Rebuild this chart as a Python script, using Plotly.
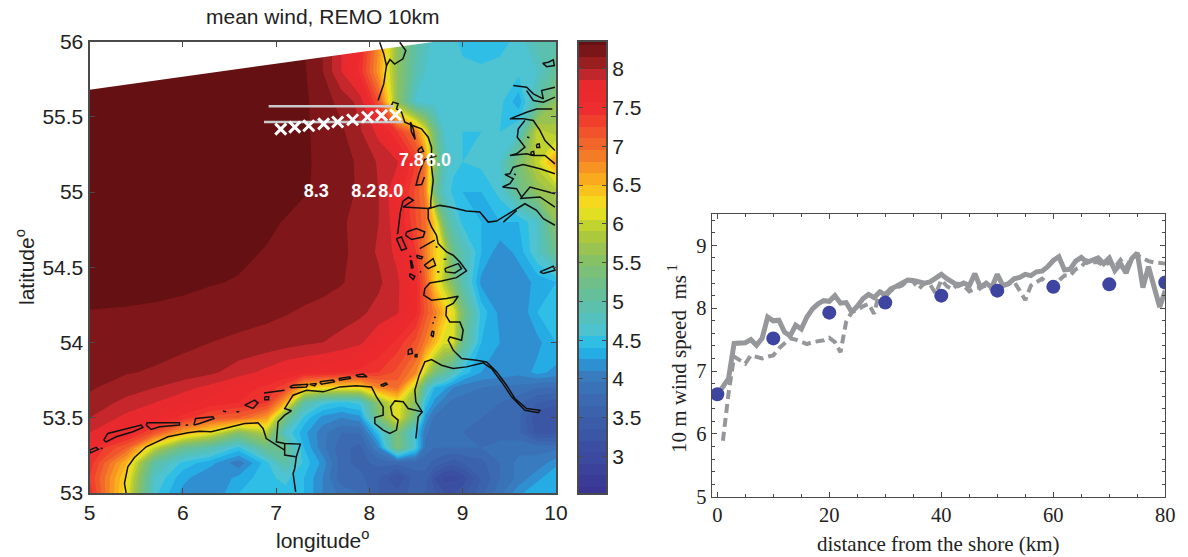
import plotly.graph_objects as go

W, H = 1188, 557

# ---------- map data: mean wind on lon/lat grid ----------
grid_lon = [5, 5.4, 5.7, 6, 6.3, 6.6, 6.9, 7.1, 7.3, 7.5, 7.7, 7.9, 8.1, 8.3, 8.5, 8.6, 8.7, 8.8, 8.9, 9.0, 9.2, 9.4, 9.6, 9.8, 10]
grid_lat = [53.0, 53.1, 53.2, 53.3, 53.4, 53.5, 53.6, 53.7, 53.8, 54.0, 54.2, 54.4, 54.6, 54.8, 55.0, 55.2, 55.4, 55.6, 55.8, 56.0]
wind = [
 [7.5,6.2,4.6,4.2,4.1,4.4,4.5,4.5,4.4,4.1,3.9,3.8,3.5,3.4,3.6,3.5,3.4,3.2,3.2,3.3,3.6,3.9,4.2,4.4,4.4],
 [7.4,6.3,4.7,4.3,4.1,4.3,4.5,4.6,4.4,4.1,3.7,3.7,3.5,3.2,3.6,3.6,3.2,3.0,3.0,3.1,3.5,3.8,4.0,4.2,4.4],
 [7.5,6.5,5.0,4.5,4.3,4.0,4.5,5.0,4.5,4.2,3.7,3.6,3.7,3.7,3.7,3.7,3.6,3.5,3.4,3.5,3.6,3.8,4.0,4.0,4.2],
 [7.6,7.1,6.0,5.2,4.9,4.5,5.2,5.2,4.4,4.0,3.7,3.6,4.1,5.4,4.6,3.9,3.8,3.8,3.8,3.8,3.8,3.9,3.9,3.9,3.9],
 [7.85,7.7,7.2,6.6,6.2,5.5,5.9,4.7,4.3,4.0,3.8,3.8,4.5,5.4,4.5,4.0,3.8,3.8,3.8,3.8,3.7,3.7,3.7,3.3,3.3],
 [8.0,7.8,7.7,7.5,7.2,7.1,6.7,5.3,4.5,4.2,4.1,4.2,5.4,6.2,5.2,4.2,3.9,3.8,3.8,3.8,3.8,3.7,3.7,3.2,3.2],
 [8.1,7.95,7.85,7.75,7.65,7.55,7.4,6.6,5.0,4.6,4.5,4.6,5.6,6.2,5.5,4.5,4.2,4.0,3.9,3.9,3.8,3.8,3.7,3.5,3.4],
 [8.17,8.07,8.0,7.9,7.8,7.65,7.5,7.3,6.5,6.3,6.3,6.3,6.8,7.0,5.9,4.9,4.4,4.3,4.1,4.0,3.95,3.9,3.9,3.8,3.8],
 [8.2,8.16,8.13,8.1,8.03,7.92,7.8,7.7,7.65,7.6,7.55,7.5,7.4,7.2,6.8,6.0,5.4,5.1,4.8,4.5,4.25,4.2,4.15,4.3,4.2],
 [8.25,8.24,8.22,8.18,8.15,8.12,8.1,8.07,8.03,8.0,7.95,7.88,7.7,7.5,7.2,6.9,6.5,6.1,6.1,5.2,4.4,4.25,4.2,4.2,4.4],
 [8.29,8.28,8.27,8.25,8.23,8.21,8.18,8.16,8.13,8.1,8.07,8.03,7.95,7.87,7.6,7.2,6.9,6.5,6.2,5.4,4.5,4.2,4.1,4.4,4.5],
 [8.4,8.38,8.36,8.34,8.31,8.29,8.26,8.25,8.22,8.2,8.16,8.1,8.03,7.88,7.6,7.1,6.4,5.9,5.4,4.9,4.2,4.2,4.15,4.3,4.4],
 [8.45,8.43,8.41,8.39,8.37,8.33,8.29,8.28,8.26,8.24,8.19,8.08,7.98,7.8,7.4,6.9,6.4,6.1,5.2,4.9,4.4,4.15,4.3,4.7,5.2],
 [8.5,8.48,8.46,8.44,8.42,8.38,8.33,8.29,8.25,8.21,8.17,8.1,8.0,7.75,7.25,7.0,6.4,5.3,4.8,4.5,4.4,4.4,4.4,4.7,5.6],
 [8.5,8.5,8.48,8.47,8.45,8.42,8.39,8.36,8.31,8.28,8.2,8.13,8.0,7.7,7.2,6.9,5.3,4.7,4.5,4.4,4.4,4.6,5.2,5.6,5.8],
 [8.5,8.5,8.5,8.48,8.46,8.44,8.42,8.4,8.32,8.27,8.21,8.12,7.98,7.87,7.4,6.9,5.6,4.8,4.6,4.55,4.6,4.7,5.4,6.0,6.7],
 [8.5,8.5,8.5,8.48,8.46,8.44,8.42,8.4,8.32,8.26,8.18,8.02,7.8,7.4,6.9,6.2,5.3,4.7,4.6,4.55,4.55,4.55,4.7,6.0,5.8],
 [8.5,8.5,8.5,8.48,8.46,8.44,8.42,8.4,8.33,8.22,8.1,7.95,7.2,5.6,4.65,4.6,4.6,4.6,4.6,4.6,4.6,4.6,4.3,5.0,5.6],
 [8.5,8.5,8.5,8.48,8.46,8.44,8.42,8.4,8.32,8.15,7.85,7.5,6.7,5.6,4.9,4.7,4.6,4.6,4.6,4.6,4.6,4.6,4.6,4.7,5.1],
 [8.5,8.5,8.5,8.48,8.46,8.44,8.42,8.38,8.3,8.15,7.85,7.6,6.8,5.6,5.0,4.8,4.6,4.6,4.6,4.5,4.4,4.5,4.6,4.9,5.0],
]
level_start, level_end, level_size = 2.6, 8.3, 0.15
bar_levels = [2.525 + 0.15 * k for k in range(40)]
bar_ticks = [3, 3.5, 4, 4.5, 5, 5.5, 6, 6.5, 7, 7.5, 8]
zmin, zmax = 2.53, 8.35
palette_z = [2.53, 3, 3.5, 4, 4.2, 4.4, 4.6, 5, 5.5, 5.8, 6, 6.2, 6.5, 7, 7.5, 7.775, 7.925, 8.075, 8.225, 8.35]
palette_c = ["#3a3592", "#3b4a9f", "#3b5fa9", "#3a78bc", "#2d93d4", "#1fbcee", "#4dc3d3", "#5fbfa3", "#84c069",
             "#a9c63f", "#c5d52d", "#f1e51f", "#fbb61c", "#f3692b", "#ee2a2e", "#e82a2e", "#c0272d", "#981e20", "#7a1518", "#651013"]

# model domain edge: no data above it
nodata_lon = [5, 8.72, 8.72, 5, 5]
nodata_lat = [55.68, 56, 56, 56, 55.68]

# transect
transect_lon = [7.05, 7.2, 7.35, 7.51, 7.66, 7.82, 7.98, 8.13, 8.28]
transect_lat = [55.418, 55.431, 55.44, 55.453, 55.465, 55.48, 55.498, 55.509, 55.513]
track_lon = [6.92, 8.26, None, 6.87, 8.36]
track_lat = [55.57, 55.57, None, 55.465, 55.465]

label_text = ["8.3", "8.2", "8.0", "7.8", "6.0"]
label_lon = [7.43, 7.94, 8.23, 8.45, 8.74]
label_lat = [55.0, 55.0, 55.0, 55.2, 55.2]

# coastlines as (lon, lat) runs
coast_runs = [
 [(8.11,55.995),(8.154,55.918),(8.183,55.84),(8.154,55.718),(8.093,55.608)],
 [(8.183,55.84),(8.22,55.88),(8.27,55.85),(8.36,55.885),(8.39,55.94),(8.325,55.995)],
 [(8.236,55.575),(8.254,55.597),(8.308,55.586),(8.29,55.552),(8.344,55.53),(8.38,55.464),(8.462,55.442),(8.558,55.42),(8.63,55.364),(8.666,55.298),(8.666,55.165),(8.684,55.077),(8.658,54.944),(8.658,54.90),(8.63,54.889),(8.63,54.823),(8.666,54.768),(8.719,54.712),(8.737,54.657),(8.827,54.602),(8.898,54.58),(8.97,54.535),(9.041,54.476),(8.934,54.431),(8.773,54.409),(8.648,54.396),(8.594,54.358),(8.583,54.314),(8.666,54.281),(8.827,54.292),(8.952,54.307),(8.898,54.259),(8.827,54.237),(8.82,54.181),(8.862,54.137),(8.97,54.137),(9.005,54.082),(8.988,54.015),(8.862,54.037),(8.845,54.015),(8.898,53.949),(8.988,53.893),(9.149,53.882),(9.256,53.871),(9.363,53.805),(9.47,53.716),(9.56,53.628),(9.685,53.561),(9.828,53.55),(9.81,53.533),(9.667,53.55),(9.524,53.639),(9.417,53.738),(9.31,53.827),(9.22,53.865),(9.041,53.838),(8.898,53.827),(8.773,53.849),(8.666,53.887),(8.594,53.871),(8.534,53.783),(8.487,53.683),(8.498,53.606),(8.566,53.539),(8.523,53.506),(8.498,53.362)],
 [(8.566,53.539),(8.416,53.561),(8.362,53.606),(8.273,53.612),(8.226,53.572),(8.244,53.517),(8.308,53.484),(8.29,53.418),(8.219,53.396),(8.147,53.418),(8.058,53.462),(8.058,53.502),(8.147,53.517),(8.147,53.572),(8.076,53.639),(8.022,53.705),(7.861,53.712),(7.682,53.705),(7.504,53.672),(7.325,53.683),(7.182,53.65),(7.092,53.561),(7.164,53.546),(7.092,53.517),(7.021,53.473),(7.003,53.34),(7.092,53.329),(7.26,53.325),(7.217,53.241),(7.2,53.163),(7.182,53.13),(7.21,53.008)],
 [(7.092,53.329),(7.092,53.252),(7.21,53.241)],
 [(5.393,52.997),(5.375,53.064),(5.411,53.174),(5.482,53.236),(5.608,53.307),(5.84,53.374),(6.055,53.4),(6.18,53.411),(6.305,53.407),(6.484,53.435),(6.663,53.462),(6.806,53.466),(6.86,53.429),(6.895,53.362),(7.003,53.318),(7.092,53.285)],
 [(5.0,53.285),(5.071,53.303),(5.096,53.29),(5.01,53.267),(5.0,53.285)],
 [(5.153,53.351),(5.196,53.396),(5.554,53.451),(5.572,53.435),(5.465,53.407),(5.286,53.374),(5.178,53.34),(5.153,53.351)],
 [(5.608,53.451),(5.618,53.466),(5.965,53.466),(5.965,53.451),(5.751,53.44),(5.661,53.422),(5.608,53.451)],
 [(6.119,53.451),(6.137,53.495),(6.323,53.506),(6.334,53.495),(6.18,53.462),(6.119,53.451)],
 [(6.43,53.545),(6.465,53.54)], [(6.575,53.538),(6.605,53.542)], [(6.03,53.45),(6.058,53.452)], [(5.12,53.295),(5.14,53.298)],
 [(6.663,53.584),(6.77,53.617),(6.806,53.599),(6.752,53.562),(6.663,53.584)],
 [(6.877,53.639),(6.92,53.64),(6.92,53.62),(6.88,53.62),(6.877,53.639)],
 [(6.87,53.665),(7.09,53.682)],
 [(7.146,53.705),(7.182,53.716),(7.343,53.723),(7.325,53.705),(7.164,53.699),(7.146,53.705)],
 [(7.36,53.723),(7.432,53.727),(7.414,53.712),(7.36,53.723)],
 [(7.468,53.739),(7.611,53.75),(7.629,53.739),(7.486,53.723),(7.468,53.739)],
 [(7.672,53.761),(7.79,53.772),(7.797,53.761),(7.682,53.75),(7.672,53.761)],
 [(7.854,53.783),(7.933,53.79),(7.976,53.772),(7.88,53.772),(7.854,53.783)],
 [(8.119,53.716),(8.176,53.732),(8.19,53.723),(8.147,53.71),(8.119,53.716)],
 [(8.416,53.949),(8.451,53.96),(8.462,53.927),(8.416,53.922),(8.416,53.949)],
 [(8.49,53.92),(8.51,53.92),(8.51,53.905),(8.49,53.905),(8.49,53.92)],
 [(8.63,54.889),(8.755,54.911),(8.862,54.9),(9.04,54.874),(9.184,54.867),(9.274,54.8),(9.363,54.807),(9.435,54.834),(9.578,54.889),(9.667,54.922),(9.792,54.878),(9.864,54.823),(9.989,54.779)],
 [(8.397,54.734),(8.505,54.757),(8.594,54.734),(8.576,54.701),(8.451,54.684),(8.39,54.712),(8.397,54.734)],
 [(8.29,54.69),(8.344,54.701),(8.397,54.624),(8.344,54.613),(8.29,54.69)],
 [(8.54,54.624),(8.7,54.68)],
 [(8.36,54.94),(8.33,54.86),(8.305,54.73),(8.30,54.72)],
 [(8.36,54.94),(8.42,54.965),(8.47,54.945),(8.36,54.90),(8.63,54.89)],
 [(8.71,54.638),(8.73,54.632)], [(8.795,54.553),(8.825,54.553)], [(8.43,54.575),(8.45,54.57)], [(8.54,54.47),(8.556,54.468)], [(8.725,54.47),(8.75,54.468)],
 [(8.505,54.58),(8.569,54.569),(8.558,54.557),(8.515,54.562),(8.505,54.58)],
 [(8.451,54.546),(8.469,54.498),(8.451,54.495),(8.44,54.542),(8.451,54.546)],
 [(8.587,54.513),(8.683,54.557),(8.709,54.513),(8.63,54.491),(8.587,54.513)],
 [(8.433,54.458),(8.487,54.44),(8.469,54.418),(8.433,54.44),(8.433,54.458)],
 [(8.809,54.491),(8.952,54.524),(8.988,54.491),(8.916,54.462),(8.819,54.469),(8.809,54.491)],
 [(8.695,54.17),(8.71,54.163)], [(8.675,54.132),(8.69,54.128)],
 [(8.673,54.077),(8.691,54.071),(8.684,54.037),(8.662,54.049),(8.673,54.077)],
 [(8.72,55.24),(8.59,55.215),(8.53,55.12),(8.5,55.045),(8.56,55.05),(8.59,55.1)],
 [(8.44,55.465),(8.47,55.42),(8.49,55.35),(8.45,55.40),(8.44,55.465)],
 [(8.52,55.28),(8.56,55.30),(8.58,55.27),(8.53,55.26),(8.52,55.28)],
 [(9.857,55.856),(9.918,55.862),(9.971,55.878),(9.982,55.84),(9.9,55.833),(9.857,55.856)],
 [(9.542,55.707),(9.685,55.696),(9.757,55.652),(9.864,55.619),(9.846,55.674),(9.989,55.696)],
 [(9.989,55.63),(9.864,55.597),(9.757,55.608),(9.685,55.674)],
 [(9.96,55.552),(9.792,55.552),(9.685,55.53),(9.596,55.508),(9.506,55.486),(9.649,55.486),(9.757,55.475),(9.828,55.409),(9.882,55.342),(9.989,55.276)],
 [(9.667,55.475),(9.596,55.42),(9.585,55.364),(9.667,55.298),(9.578,55.254),(9.506,55.243),(9.685,55.254),(9.757,55.243),(9.882,55.243),(9.989,55.187)],
 [(9.989,55.121),(9.828,55.154),(9.649,55.183),(9.542,55.165),(9.506,55.121),(9.452,55.117),(9.542,55.088),(9.506,55.055),(9.427,55.033),(9.578,55.022),(9.631,54.966),(9.721,55.033),(9.989,54.988)],
 [(9.613,54.956),(9.828,54.967),(9.989,54.9)],
 [(9.435,54.8),(9.578,54.878)],
 [(9.828,54.469),(9.971,54.507),(9.989,54.48),(9.864,54.458),(9.828,54.469)],
 [(9.69,55.365),(9.715,55.36)],
 [(9.79,55.315),(9.82,55.32),(9.825,55.295),(9.795,55.295),(9.79,55.315)],
 [(9.73,55.265),(9.76,55.27),(9.765,55.25),(9.735,55.245),(9.73,55.265)],
 [(9.55,55.12),(9.57,55.115)],
]
coast_lon, coast_lat = [], []
for run in coast_runs:
    coast_lon += [p[0] for p in run] + [None]
    coast_lat += [p[1] for p in run] + [None]

# ---------- right panel series ----------
km = list(range(0, 81))
solid = [6.62,6.75,6.88,7.44,7.45,7.45,7.5,7.41,7.52,7.86,7.8,7.81,7.62,7.56,7.73,7.67,7.86,7.99,8.07,8.12,8.11,8.2,8.08,8.09,7.94,8.03,8.15,8.22,8.17,8.26,8.22,8.31,8.35,8.39,8.45,8.44,8.42,8.4,8.42,8.49,8.54,8.47,8.42,8.36,8.4,8.36,8.55,8.33,8.4,8.33,8.54,8.36,8.39,8.47,8.49,8.54,8.52,8.58,8.59,8.66,8.76,8.82,8.61,8.62,8.75,8.81,8.73,8.76,8.8,8.71,8.8,8.6,8.71,8.56,8.79,8.88,8.33,8.66,8.34,8.02,8.28]
dashed_km = list(range(1, 81))
dashed = [5.89,6.64,7.23,7.17,7.12,7.25,7.23,7.2,7.23,7.25,7.36,7.45,7.52,7.5,7.46,7.43,7.46,7.48,7.49,7.53,7.46,7.3,7.78,7.94,7.97,8.03,8.07,7.91,8.28,8.18,8.28,8.33,8.36,8.45,8.42,8.31,8.4,8.38,8.23,8.45,8.35,8.3,8.39,8.36,8.27,8.31,8.33,8.36,8.3,8.36,8.36,8.39,8.42,8.28,8.13,8.36,8.42,8.47,8.39,8.36,8.44,8.52,8.52,8.62,8.66,8.76,8.73,8.73,8.68,8.73,8.65,8.77,8.65,8.81,8.84,8.8,8.75,8.73,8.72,8.71]
obs_km = [0, 10, 20, 30, 40, 50, 60, 70, 80]
obs = [6.63, 7.52, 7.93, 8.09, 8.2, 8.28, 8.34, 8.38, 8.41]

SANS = "Liberation Sans"
SERIF = "Liberation Serif"
INK = "#222222"
FRAME = "#4a4a4a"

scale = [[(z - zmin) / (zmax - zmin), c] for z, c in zip(palette_z, palette_c)]

fig = go.Figure()
fig.add_trace(go.Contour(x=grid_lon, y=grid_lat, z=wind, colorscale=scale, zmin=zmin, zmax=zmax, zauto=False,
                         autocontour=False, contours=dict(start=level_start, end=level_end, size=level_size, coloring="fill", showlines=False),
                         line=dict(width=0, smoothing=0), showscale=False, xaxis="x", yaxis="y"))
fig.add_trace(go.Scatter(x=nodata_lon, y=nodata_lat, mode="lines", fill="toself", fillcolor="white",
                         line=dict(width=0, color="white"), xaxis="x", yaxis="y"))
fig.add_trace(go.Scatter(x=coast_lon, y=coast_lat, mode="lines", line=dict(color="#111111", width=1.5), xaxis="x", yaxis="y", connectgaps=False))
fig.add_trace(go.Scatter(x=track_lon, y=track_lat, mode="lines", line=dict(color="#c9c9c9", width=2.5), xaxis="x", yaxis="y", connectgaps=False))
fig.add_trace(go.Scatter(x=transect_lon, y=transect_lat, mode="markers",
                         marker=dict(symbol="x-thin", size=11, line=dict(color="white", width=3)), xaxis="x", yaxis="y"))
fig.add_trace(go.Scatter(x=label_lon, y=label_lat, mode="text", text=label_text,
                         textfont=dict(family=SANS, size=18, color="white", weight="bold"), textposition="middle center", xaxis="x", yaxis="y"))

# colour scale strip
fig.add_trace(go.Heatmap(x=[0], y=bar_levels, z=[[v] for v in bar_levels], colorscale=scale, zmin=zmin, zmax=zmax,
                         showscale=False, xaxis="x3", yaxis="y3"))

# right panel
fig.add_trace(go.Scatter(x=dashed_km, y=dashed, mode="lines", line=dict(color="#96979a", width=4, dash="9px,5px"), xaxis="x2", yaxis="y2"))
fig.add_trace(go.Scatter(x=km, y=solid, mode="lines", line=dict(color="#96979a", width=5), xaxis="x2", yaxis="y2"))
fig.add_trace(go.Scatter(x=obs_km, y=obs, mode="markers", marker=dict(color="#3e45a0", size=14), xaxis="x2", yaxis="y2"))


def px(x):
    return x / W


def py(y):
    return 1 - y / H


def dx(a, b):
    return [px(a), px(b)]


def dy(top, bottom):
    return [py(bottom), py(top)]


map_axis = dict(showgrid=False, zeroline=False, showline=True, linecolor=FRAME, linewidth=2, mirror="ticks", automargin=False,
                ticks="inside", ticklen=5, tickcolor=FRAME, tickwidth=1, tickfont=dict(family=SANS, size=21, color=INK))
paper_axis = dict(showgrid=False, zeroline=False, showline=True, linecolor=FRAME, linewidth=1.2, mirror="ticks", automargin=False,
                  ticks="inside", ticklen=5, tickcolor=FRAME, tickwidth=1, tickfont=dict(family=SERIF, size=20.5, color=INK))


def caption(text, x, y, family, angle=0, size=21):
    return dict(text=text, x=px(x), y=py(y), xref="paper", yref="paper", showarrow=False, textangle=angle,
                xanchor="center", yanchor="middle", font=dict(family=family, size=size, color=INK))


fig.update_layout(
    width=W, height=H, autosize=False, margin=dict(l=0, r=0, t=0, b=0), showlegend=False,
    paper_bgcolor="white", plot_bgcolor="white",
    xaxis=dict(domain=dx(89.5, 556), range=[5, 10], tickvals=[5, 6, 7, 8, 9, 10], anchor="y", **map_axis),
    yaxis=dict(domain=dy(41.5, 493), range=[53, 56], tickvals=[53, 53.5, 54, 54.5, 55, 55.5, 56],
               ticktext=["53", "53.5", "54", "54.5", "55", "55.5", "56"], anchor="x", **map_axis),
    xaxis3=dict(domain=dx(579, 606), range=[-0.5, 0.5], showticklabels=False, ticks="", showgrid=False, zeroline=False,
                showline=True, linecolor=FRAME, linewidth=2, mirror=True, anchor="y3", automargin=False),
    yaxis3=dict(domain=dy(41.5, 493), range=[zmin, zmax], tickvals=bar_ticks, ticktext=[f"{t:g}" for t in bar_ticks],
                side="right", anchor="x3", showgrid=False, zeroline=False, showline=True, linecolor=FRAME, linewidth=2, automargin=False,
                mirror="ticks", ticks="inside", ticklen=4, tickcolor=FRAME, tickfont=dict(family=SANS, size=21, color=INK)),
    xaxis2=dict(domain=dx(711.7, 1165.3), range=[-1, 80], tickvals=[0, 20, 40, 60, 80], anchor="y2",
                minor=dict(dtick=5, tick0=0, ticks="inside", ticklen=3, tickcolor=FRAME), **paper_axis),
    yaxis2=dict(domain=dy(214, 496.7), range=[5, 9.5], tickvals=[5, 6, 7, 8, 9], anchor="x2",
                minor=dict(dtick=0.2, tick0=5, ticks="inside", ticklen=3, tickcolor=FRAME), **paper_axis),
    annotations=[
        caption("mean wind, REMO 10km", 322, 17, SANS),
        caption("longitude<sup>o</sup>", 322, 539, SANS),
        caption("latitude<sup>o</sup>", 25, 267, SANS, angle=-90),
        caption("distance from the shore (km)", 938, 544, SERIF),
        caption("10 m wind speed  ms<sup> 1</sup>", 677, 359, SERIF, angle=-90),
    ],
)
# the page's default 8 px body margin would push the figure off the window
fig.write_html("out.html", config={"displayModeBar": False}, post_script="document.body.style.margin='0';")
